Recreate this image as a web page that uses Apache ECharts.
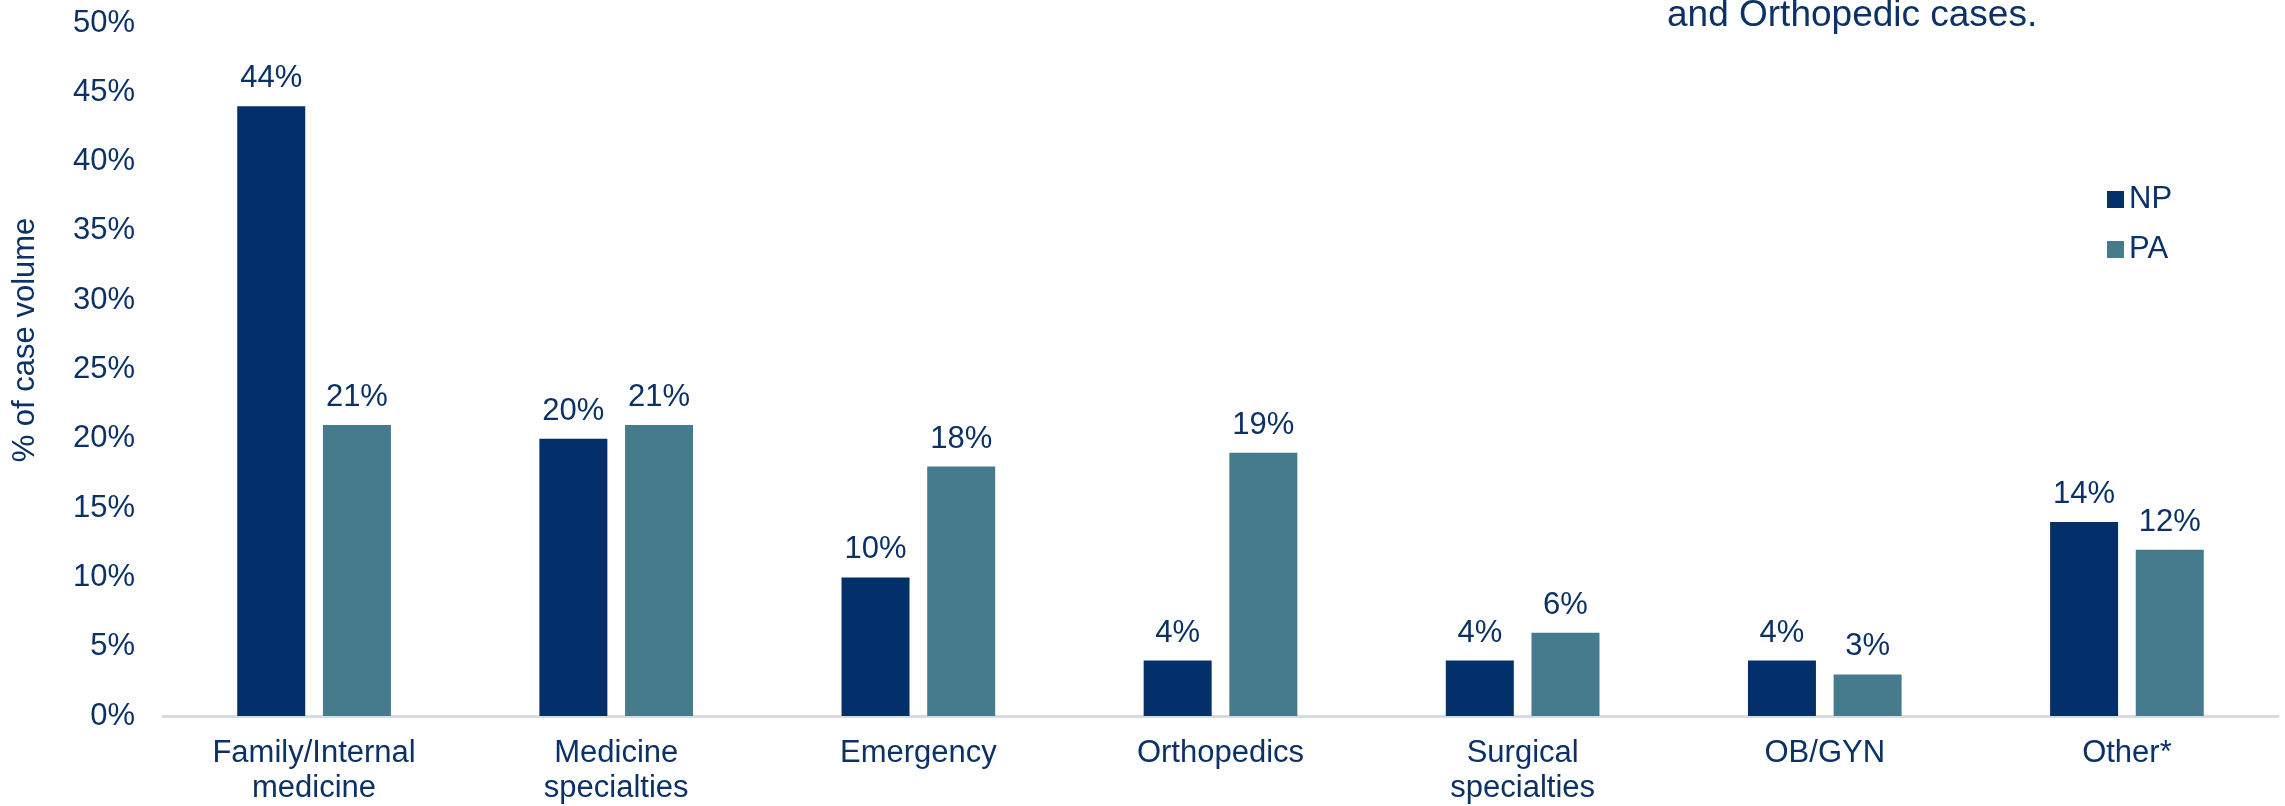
<!DOCTYPE html>
<html>
<head>
<meta charset="utf-8">
<title>Case volume by specialty: NP vs PA</title>
<script src="https://cdn.jsdelivr.net/npm/echarts@6/dist/echarts.min.js"></script>
<style>
  html, body { margin: 0; padding: 0; background: #ffffff; }
  #chart { width: 2285px; height: 806px; }
</style>
</head>
<body>
<div id="chart"></div>
<script>
// Specialty categories (x axis)
const categories = [
  'Family/Internal\nmedicine',
  'Medicine\nspecialties',
  'Emergency',
  'Orthopedics',
  'Surgical\nspecialties',
  'OB/GYN',
  'Other*'
];

// Share of case volume, in percent
const npValues = [44, 20, 10, 4, 4, 4, 14];
const paValues = [21, 21, 18, 19, 6, 3, 12];

// Series names
const seriesNames = ['NP', 'PA'];

// Y axis range and step, in percent
const yMin = 0;
const yMax = 50;
const yStep = 5;

const yAxisTitle = '% of case volume';
const noteText = 'and Orthopedic cases.';

const NAVY = '#0b3166';
const NP_COLOR = '#03306a';
const PA_COLOR = '#457b8d';
const FONT = 'Liberation Sans, Arial, sans-serif';

const chart = echarts.init(document.getElementById('chart'), null, { renderer: 'canvas' });

const labelStyle = {
  show: true,
  position: 'top',
  distance: 12,
  color: NAVY,
  fontFamily: FONT,
  fontSize: 31,
  formatter: p => p.value + '%'
};

chart.setOption({
  animation: false,
  backgroundColor: '#ffffff',
  grid: { left: 163, right: 7, top: 23, bottom: 90, containLabel: false },
  legend: {
    orient: 'vertical',
    left: 2107,
    top: 184,
    padding: 0,
    itemWidth: 17,
    itemHeight: 17,
    itemGap: 19,
    itemStyle: { borderWidth: 0 },
    icon: 'rect',
    textStyle: { color: NAVY, fontFamily: FONT, fontSize: 31, lineHeight: 30 },
    data: seriesNames
  },
  xAxis: {
    type: 'category',
    data: categories,
    axisLine: { show: true, lineStyle: { color: '#d6dbe3', width: 3 } },
    axisTick: { show: false },
    axisLabel: {
      color: NAVY,
      fontFamily: FONT,
      fontSize: 31,
      lineHeight: 35,
      margin: 20,
      interval: 0
    }
  },
  yAxis: {
    type: 'value',
    min: yMin,
    max: yMax,
    interval: yStep,
    axisLine: { show: false },
    axisTick: { show: false },
    splitLine: { show: false },
    axisLabel: {
      color: NAVY,
      fontFamily: FONT,
      fontSize: 31,
      margin: 28,
      align: 'right',
      formatter: v => v + '%'
    }
  },
  series: [
    {
      name: seriesNames[0],
      type: 'bar',
      data: npValues,
      barWidth: 68,
      barGap: '26%',
      itemStyle: { color: NP_COLOR },
      label: labelStyle
    },
    {
      name: seriesNames[1],
      type: 'bar',
      data: paValues,
      barWidth: 68,
      barGap: '26%',
      itemStyle: { color: PA_COLOR },
      label: labelStyle
    }
  ],
  graphic: [
    {
      // vertical y-axis title
      type: 'text',
      x: 25,
      y: 340,
      rotation: Math.PI / 2,
      style: {
        text: yAxisTitle,
        fill: NAVY,
        font: '31px ' + FONT,
        align: 'center',
        verticalAlign: 'middle'
      }
    },
    {
      // last line of the note in the upper right
      type: 'text',
      x: 1667,
      y: 34,
      style: {
        text: noteText,
        fill: NAVY,
        font: '37px ' + FONT,
        align: 'left',
        verticalAlign: 'bottom'
      }
    }
  ]
});
</script>
</body>
</html>
